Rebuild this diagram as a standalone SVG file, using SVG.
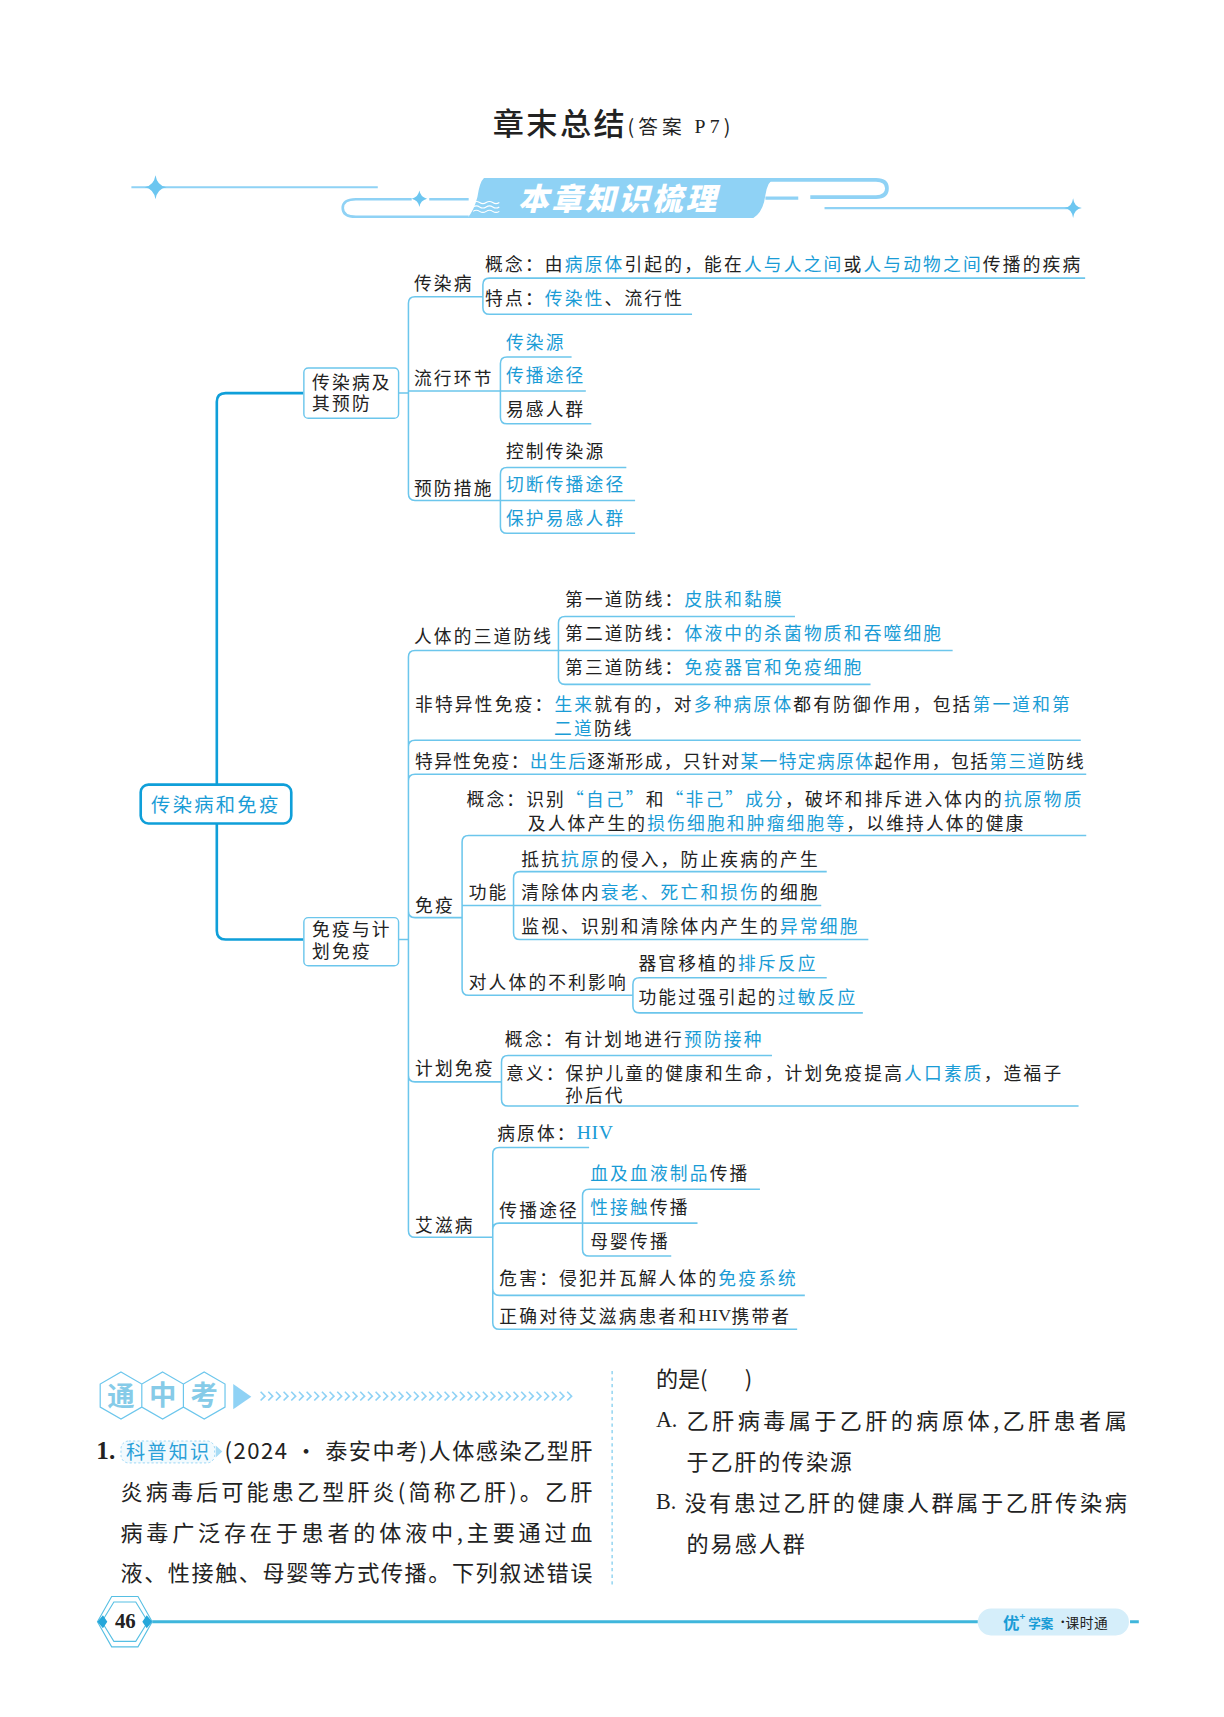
<svg xmlns="http://www.w3.org/2000/svg" width="1224" height="1717" viewBox="0 0 1224 1717">
<style>
text{font-family:"Noto Sans CJK SC","Noto Sans",sans-serif;fill:#222;dominant-baseline:central}
.t{font-size:16.2px;letter-spacing:2px}
.c{fill:#1a9cd6}
.l{fill:none;stroke:#6cc6ec;stroke-width:1.4}
.tr{fill:none;stroke:#0f9fd9;stroke-width:2.4}
.deco{fill:none;stroke:#8fd2f5;stroke-width:2}
.ser{font-family:"Liberation Serif",serif}
.q{font-size:20.2px}
.h{font-size:25px;font-weight:700;fill:#86cbe8}
</style>
<rect width="1224" height="1717" fill="#fff"/>
<g transform="scale(1.095)">
<g id="title">
<text x="450" y="111" font-size="28.500" font-weight="500" letter-spacing="2.200">章末总结</text>
<text x="573" y="115" font-size="18" letter-spacing="3.800">(答案 <tspan class="ser">P7</tspan>)</text>
</g>
<g id="banner">
<path class="deco" d="M120 171H345M753 190H980"/>
<path d="M142 160Q143.500 169.500 152 171Q143.500 172.500 142 182Q140.500 172.500 132 171Q140.500 169.500 142 160ZM980 181Q981 189 988 190Q981 191 980 199Q979 191 972 190Q979 189 980 181ZM383 174Q384 180 390 181.500Q384 183 383 189Q382 183 376 181.500Q382 180 383 174Z" fill="#6cc6f0"/>
<path d="M442 162.500H708Q701 165 699 178Q697 194 688 199H427Q433 192 436 180Q438 166 442 162.500Z" fill="#8fd2f5"/>
<path d="M700 164.300H800Q810 164.300 810 172Q810 180 800 180H740" fill="none" stroke="#8fd2f5" stroke-width="3.400"/>
<path d="M699 181H729" fill="none" stroke="#8fd2f5" stroke-width="3"/>
<path d="M428 198H325Q313 198 313 190Q313 182 325 182H376M392 182H428" fill="none" stroke="#8fd2f5" stroke-width="2.400"/>
<path d="M432 185q3 -2 6 0t6 0t6 0t6 0M432 189q3 -2 6 0t6 0t6 0t6 0M432 193q3 -2 6 0t6 0t6 0t6 0" fill="none" stroke="#fff" stroke-width="1"/>
<text x="473" y="179" font-size="28" font-weight="900" letter-spacing="2.600" font-style="italic" style="fill:#fff">本章知识梳理</text>
</g>
<g id="connectors">
<path class="tr" d="M198 716V367Q198 359 206 359H277M198 752V850Q198 858 206 858H277"/>
<path class="l" d="M364 359H373M364 858H373"/>
<path class="l" d="M441 271H379Q373 271 373 277V451Q373 457 379 457H457M373 357H457"/>
<path class="l" d="M991 254H447Q441 254 441 260V281Q441 287 447 287H632"/>
<path class="l" d="M522 326H463Q457 326 457 332V381Q457 387 463 387H540M457 357H535"/>
<path class="l" d="M572 427H463Q457 427 457 433V481Q457 487 463 487H580M457 457H580"/>
<path class="l" d="M510 594H379Q373 594 373 600V1124Q373 1130 379 1130H450M373 682Q373 676 379 676H987M373 713Q373 707 379 707H992M373 832Q373 838 379 838H422M373 982Q373 988 379 988H458"/>
<path class="l" d="M726 563H516Q510 563 510 569V619Q510 625 516 625H795M510 594H870"/>
<path class="l" d="M992 763H428Q422 763 422 769V903Q422 909 428 909H578M422 827H469"/>
<path class="l" d="M755 796H475Q469 796 469 802V852Q469 858 475 858H793M469 827H750"/>
<path class="l" d="M755 893H584Q578 893 578 899V919Q578 925 584 925H788"/>
<path class="l" d="M705 964H464Q458 964 458 970V1004Q458 1010 464 1010H985"/>
<path class="l" d="M538 1048H456Q450 1048 450 1054V1208Q450 1214 456 1214H728M450 1123Q450 1117 456 1117H532M450 1177Q450 1183 456 1183H735"/>
<path class="l" d="M694 1086H538Q532 1086 532 1092V1141Q532 1147 538 1147H613M532 1117H637"/>
</g>
<g id="root"><rect x="128.500" y="716.500" width="137.500" height="35.500" rx="7" fill="#fff" stroke="#0f9fd9" stroke-width="2.400"/><text class="c" x="138" y="734" font-size="17.600" letter-spacing="2.100">传染病和免疫</text></g>
<g id="node-a"><rect x="277.500" y="336" width="86.500" height="46" rx="4" fill="#fff" stroke="#6cc6ec" stroke-width="1.300"/><text class="t" x="285" y="347.500">传染病及<tspan x="285" dy="20">其预防</tspan></text></g>
<g id="node-b"><rect x="277.500" y="838" width="86.500" height="44" rx="4" fill="#fff" stroke="#6cc6ec" stroke-width="1.300"/><text class="t" x="285" y="847.500">免疫与计<tspan x="285" dy="20">划免疫</tspan></text></g>
<g id="labels" transform="translate(0,-1)">
<g id="n1"><text class="t" x="378" y="259">传染病</text></g>
<g id="n2"><text class="t" x="443" y="241">概念&#xFF1A;由<tspan class="c">病原体</tspan>引起的&#xFF0C;能在<tspan class="c">人与人之间</tspan>或<tspan class="c">人与动物之间</tspan>传播的疾病</text></g>
<g id="n3"><text class="t" x="443" y="272">特点&#xFF1A;<tspan class="c">传染性</tspan>、流行性</text></g>
<g id="n4"><text class="t" x="378" y="345">流行环节</text></g>
<g id="n5"><text class="t c" x="462" y="312">传染源</text></g>
<g id="n6"><text class="t c" x="462" y="343">传播途径</text></g>
<g id="n7"><text class="t" x="462" y="374">易感人群</text></g>
<g id="n8"><text class="t" x="378" y="446">预防措施</text></g>
<g id="n9"><text class="t" x="462" y="412">控制传染源</text></g>
<g id="n10"><text class="t c" x="462" y="442">切断传播途径</text></g>
<g id="n11"><text class="t c" x="462" y="473">保护易感人群</text></g>
<g id="n12"><text class="t" x="378" y="581">人体的三道防线</text></g>
<g id="n13"><text class="t" x="516" y="547">第一道防线&#xFF1A;<tspan class="c">皮肤和黏膜</tspan></text></g>
<g id="n14"><text class="t" x="516" y="578">第二道防线&#xFF1A;<tspan class="c">体液中的杀菌物质和吞噬细胞</tspan></text></g>
<g id="n15"><text class="t" x="516" y="609">第三道防线&#xFF1A;<tspan class="c">免疫器官和免疫细胞</tspan></text></g>
<g id="n16"><text class="t" x="379" y="643">非特异性免疫&#xFF1A;<tspan class="c">生来</tspan>就有的&#xFF0C;对<tspan class="c">多种病原体</tspan>都有防御作用&#xFF0C;包括<tspan class="c">第一道和第</tspan><tspan class="c" x="506" dy="22">二道</tspan>防线</text></g>
<g id="n17"><text class="t" x="379" y="695" style="letter-spacing:1.300px">特异性免疫&#xFF1A;<tspan class="c">出生后</tspan>逐渐形成&#xFF0C;只针对<tspan class="c">某一特定病原体</tspan>起作用&#xFF0C;包括<tspan class="c">第三道</tspan>防线</text></g>
<g id="n18"><text class="t" x="379" y="827">免疫</text></g>
<g id="n19"><text class="t" x="426" y="730">概念&#xFF1A;识别<tspan class="c">“自己”</tspan>和<tspan class="c">“非己”成分</tspan>&#xFF0C;破坏和排斥进入体内的<tspan class="c">抗原物质</tspan><tspan x="482" dy="22">及人体产生的</tspan><tspan class="c">损伤细胞和肿瘤细胞等</tspan>&#xFF0C;以维持人体的健康</text></g>
<g id="n20"><text class="t" x="428" y="815">功能</text></g>
<g id="n21"><text class="t" x="476" y="785">抵抗<tspan class="c">抗原</tspan>的侵入&#xFF0C;防止疾病的产生</text></g>
<g id="n22"><text class="t" x="476" y="815">清除体内<tspan class="c">衰老、死亡和损伤</tspan>的细胞</text></g>
<g id="n23"><text class="t" x="476" y="846">监视、识别和清除体内产生的<tspan class="c">异常细胞</tspan></text></g>
<g id="n24"><text class="t" x="428" y="897">对人体的不利影响</text></g>
<g id="n25"><text class="t" x="583" y="880">器官移植的<tspan class="c">排斥反应</tspan></text></g>
<g id="n26"><text class="t" x="583" y="911">功能过强引起的<tspan class="c">过敏反应</tspan></text></g>
<g id="n27"><text class="t" x="379" y="975">计划免疫</text></g>
<g id="n28"><text class="t" x="461" y="949">概念&#xFF1A;有计划地进行<tspan class="c">预防接种</tspan></text></g>
<g id="n29"><text class="t" x="462" y="980">意义&#xFF1A;保护儿童的健康和生命&#xFF0C;计划免疫提高<tspan class="c">人口素质</tspan>&#xFF0C;造福子<tspan x="516" dy="20">孙后代</tspan></text></g>
<g id="n30"><text class="t" x="379" y="1119">艾滋病</text></g>
<g id="n31"><text class="t" x="454" y="1035">病原体&#xFF1A;<tspan class="c ser" font-size="18" letter-spacing="0.500">HIV</tspan></text></g>
<g id="n32"><text class="t" x="456" y="1105">传播途径</text></g>
<g id="n33"><text class="t" x="539" y="1071"><tspan class="c">血及血液制品</tspan>传播</text></g>
<g id="n34"><text class="t" x="539" y="1102"><tspan class="c">性接触</tspan>传播</text></g>
<g id="n35"><text class="t" x="539" y="1133">母婴传播</text></g>
<g id="n36"><text class="t" x="456" y="1167">危害&#xFF1A;侵犯并瓦解人体的<tspan class="c">免疫系统</tspan></text></g>
<g id="n37"><text class="t" x="456" y="1202">正确对待艾滋病患者和<tspan class="ser" letter-spacing="0.500">HIV</tspan>携带者</text></g>
</g>
<g id="exam-head">
<path d="M110.500 1253l19 11v21l-19 11l-19 -11v-21zM148.500 1253l19 11v21l-19 11l-19 -11v-21zM186.500 1253l19 11v21l-19 11l-19 -11v-21z" fill="#fff" stroke="#6cc6ec" stroke-width="1.100"/>
<text class="h" x="110.500" y="1273" text-anchor="middle">通</text>
<text class="h" x="148.500" y="1272" text-anchor="middle">中</text>
<text class="h" x="186.500" y="1272" text-anchor="middle">考</text>
<path d="M213 1264L229.500 1275.500L213 1287Z" fill="#8fd2f5"/>
<path d="M238 1271l4 4l-4 4M245 1271l4 4l-4 4M252 1271l4 4l-4 4M259 1271l4 4l-4 4M266 1271l4 4l-4 4M273 1271l4 4l-4 4M280 1271l4 4l-4 4M287 1271l4 4l-4 4M294 1271l4 4l-4 4M301 1271l4 4l-4 4M308 1271l4 4l-4 4M315 1271l4 4l-4 4M322 1271l4 4l-4 4M329 1271l4 4l-4 4M336 1271l4 4l-4 4M343 1271l4 4l-4 4M350 1271l4 4l-4 4M357 1271l4 4l-4 4M364 1271l4 4l-4 4M371 1271l4 4l-4 4M378 1271l4 4l-4 4M385 1271l4 4l-4 4M392 1271l4 4l-4 4M399 1271l4 4l-4 4M406 1271l4 4l-4 4M413 1271l4 4l-4 4M420 1271l4 4l-4 4M427 1271l4 4l-4 4M434 1271l4 4l-4 4M441 1271l4 4l-4 4M448 1271l4 4l-4 4M455 1271l4 4l-4 4M462 1271l4 4l-4 4M469 1271l4 4l-4 4M476 1271l4 4l-4 4M483 1271l4 4l-4 4M490 1271l4 4l-4 4M497 1271l4 4l-4 4M504 1271l4 4l-4 4M511 1271l4 4l-4 4M518 1271l4 4l-4 4" fill="none" stroke="#8fd2f5" stroke-width="1.500"/>
</g>
<g id="question" transform="translate(0,-2)">
<text x="88" y="1327" font-weight="700" class="ser" font-size="23">1.</text>
<rect x="110.500" y="1318" width="85.500" height="20" rx="7" fill="#f2fafe" stroke="#8fd2f5" stroke-width="0.800" stroke-dasharray="2 2"/>
<path d="M197 1322l6 5.500l-6 5.500z" fill="#a8dcf5"/>
<text x="115" y="1327" font-size="17.500" textLength="76" style="fill:#2aa0d8">科普知识</text>
<text class="q" x="205" y="1325" textLength="336">(2024 · 泰安中考)人体感染乙型肝</text>
<text class="q" x="110" y="1363" textLength="431">炎病毒后可能患乙型肝炎(简称乙肝)。乙肝</text>
<text class="q" x="110" y="1400" textLength="431">病毒广泛存在于患者的体液中,主要通过血</text>
<text class="q" x="110" y="1437" textLength="431">液、性接触、母婴等方式传播。下列叙述错误</text>
<path d="M559 1254V1449" stroke="#6cc6ec" stroke-width="1" stroke-dasharray="3 3" fill="none"/>
<text class="q" x="599" y="1260">的是(<tspan dx="34">)</tspan></text>
<text class="ser q" x="599" y="1298" font-size="21">A.</text>
<text class="q" x="627" y="1298" textLength="402">乙肝病毒属于乙肝的病原体,乙肝患者属</text>
<text class="q" x="627" y="1335" textLength="151">于乙肝的传染源</text>
<text class="ser q" x="599" y="1373" font-size="21">B.</text>
<text class="q" x="625" y="1373" textLength="404">没有患过乙肝的健康人群属于乙肝传染病</text>
<text class="q" x="627" y="1410" textLength="108">的易感人群</text>
</g>
<g id="footer">
<path d="M139 1481H893M1032 1481H1040" stroke="#3fb6dc" stroke-width="2.700" fill="none"/>
<path d="M102 1458H126L139 1481L126 1504H102L89 1481ZM104 1463H124L135 1481L124 1499H104L93 1481Z" fill="#fff" stroke="#56bfe3" stroke-width="1"/>
<path d="M94 1475L89 1481L94 1487L98 1481ZM134 1475L139 1481L134 1487L130 1481Z" fill="#25a7da"/>
<text x="114.500" y="1480" font-size="19" font-weight="700" text-anchor="middle" class="ser">46</text>
<rect x="893" y="1469" width="138" height="24.500" rx="12" fill="#d5eefa"/>
<text x="916" y="1481" font-size="15" font-weight="700" class="c">优</text>
<text x="931" y="1476" font-size="9" font-weight="700" class="c">+</text>
<text x="939" y="1482" font-size="11.500" font-weight="700" class="c">学案</text>
<text x="965" y="1481" font-size="11">·</text>
<text x="973" y="1481" font-size="12.500" letter-spacing="0.600">课时通</text>
</g>
</g>
</svg>
